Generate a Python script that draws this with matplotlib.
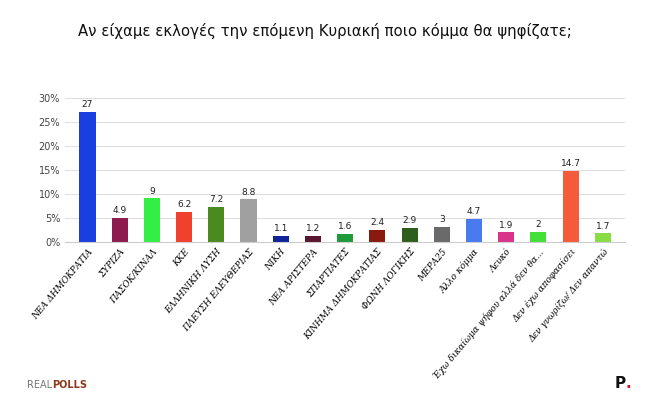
import matplotlib
matplotlib.use("Agg")
import matplotlib.pyplot as plt
from matplotlib.ticker import PercentFormatter

categories = ["ΝΕΑ ΔΗΜΟΚΡΑΤΙΑ", "ΣΥΡΙΖΑ", "ΠΑΣΟΚ/ΚΙΝΑΛ", "ΚΚΕ", "ΕΛΛΗΝΙΚΗ ΛΥΣΗ",
              "ΠΛΕΥΣΗ ΕΛΕΥΘΕΡΙΑΣ", "ΝΙΚΗ", "ΝΕΑ ΑΡΙΣΤΕΡΑ", "ΣΠΑΡΤΙΑΤΕΣ",
              "ΚΙΝΗΜΑ ΔΗΜΟΚΡΑΤΙΑΣ", "ΦΩΝΗ ΛΟΓΙΚΗΣ", "ΜΕΡΑ25", "Άλλο κόμμα", "Λευκό",
              "Έχω δικαίωμα ψήφου αλλά δεν θα...", "Δεν έχω αποφασίσει",
              "Δεν γνωρίζω/ Δεν απαντώ"]
values = [27, 4.9, 9, 6.2, 7.2, 8.8, 1.1, 1.2, 1.6, 2.4, 2.9, 3, 4.7, 1.9, 2, 14.7, 1.7]
colors = ["#1a3fe0", "#8e1b4e", "#33ee44", "#f0402e", "#4b8a1e", "#a0a0a0", "#10239a",
          "#5a1630", "#1f9a3a", "#8a1a10", "#2e5e1e", "#6a6a6a", "#4a7af0", "#d8358a",
          "#44e03a", "#f55a3a", "#88dd44"]
yticks = [0, 5, 10, 15, 20, 25, 30]

fig = plt.figure(figsize=(6.5, 4.08), dpi=100)
fig.text(0.5, 0.925, "Αν είχαμε εκλογές την επόμενη Κυριακή ποιο κόμμα θα ψηφίζατε;",
         ha="center", va="center", fontsize=10.7, color="#111111")
ax = fig.add_axes([0.1, 0.408, 0.862, 0.352])
x = range(len(categories))
ax.bar(x, values, color=colors, width=0.5)
for xi, v in zip(x, values):
    ax.text(xi, v + 0.6, f"{v:g}", ha="center", va="bottom", fontsize=6.5, color="#222222")
ax.set_ylim(0, 30)
ax.set_xlim(-0.7, len(categories) - 0.3)
ax.set_yticks(yticks)
ax.yaxis.set_major_formatter(PercentFormatter(decimals=0))
ax.tick_params(axis="y", labelsize=7, colors="#444444", length=0)
ax.set_xticks(list(x))
ax.set_xticklabels(categories, rotation=50, ha="right", rotation_mode="anchor",
                   fontsize=6.4, fontfamily="DejaVu Serif", fontstyle="italic")
ax.tick_params(axis="x", length=0, pad=4)
ax.grid(axis="y", color="#dddddd", linewidth=0.7)
ax.set_axisbelow(True)
for s in ["top", "right", "left"]:
    ax.spines[s].set_visible(False)
ax.spines["bottom"].set_color("#cccccc")

fig.text(0.08, 0.05, "REAL", fontsize=7, color="#777777", ha="right")
fig.text(0.08, 0.05, "POLLS", fontsize=7, color="#8a3a1a", ha="left", fontweight="bold")
fig.text(0.945, 0.05, "P", fontsize=11, fontweight="bold", color="#111111")
fig.text(0.962, 0.05, ".", fontsize=11, fontweight="bold", color="#e0102a")
fig.savefig("out.png", dpi=100, facecolor="white")
